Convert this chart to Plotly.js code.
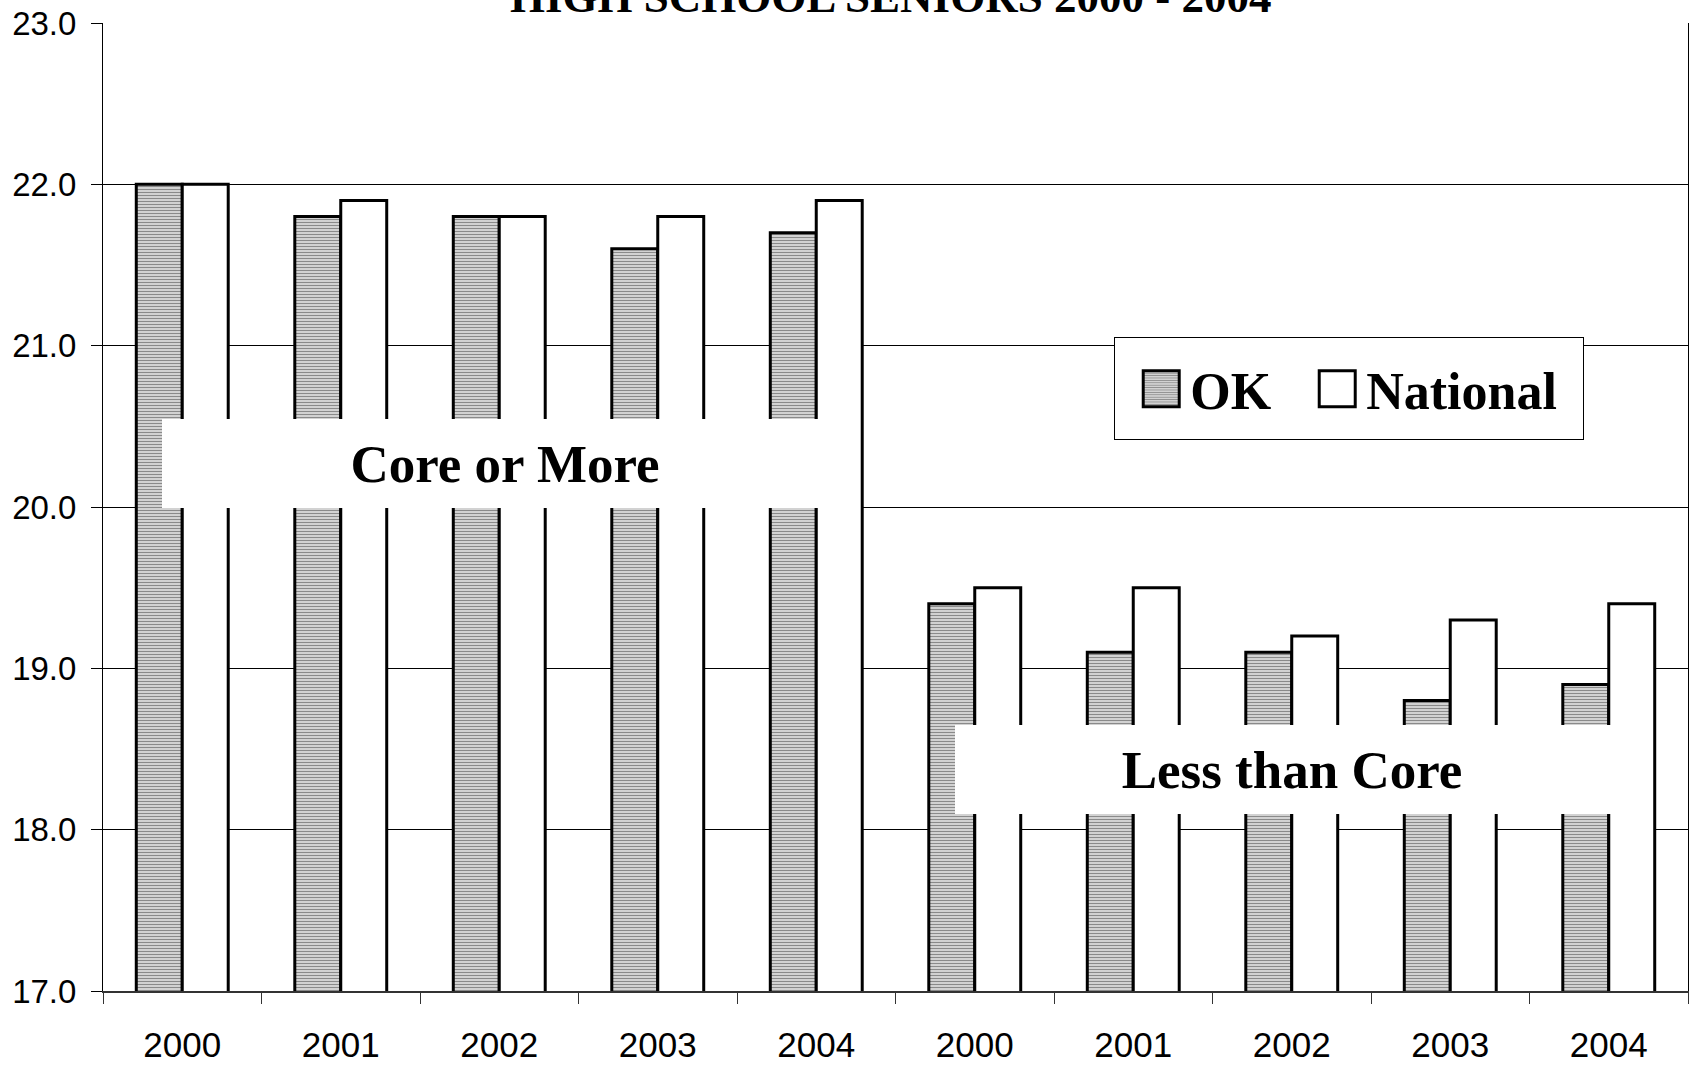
<!DOCTYPE html>
<html>
<head>
<meta charset="utf-8">
<script src="https://cdn.plot.ly/plotly-3.0.1.min.js"></script>
<style>
  html, body { margin: 0; padding: 0; background: #fff; }
  #chart { width: 1691px; height: 1065px; }
</style>
</head>
<body>
<div id="chart"></div>
<script>
// ---- data ----
const categories = ['2000', '2001', '2002', '2003', '2004', '2000', '2001', '2002', '2003', '2004'];
const okScores = [22.0, 21.8, 21.8, 21.6, 21.7, 19.4, 19.1, 19.1, 18.8, 18.9];
const nationalScores = [22.0, 21.9, 21.8, 21.8, 21.9, 19.5, 19.5, 19.2, 19.3, 19.4];
const seriesNames = ['OK', 'National'];
const groupLabels = ['Core or More', 'Less than Core'];
const titleText = 'HIGH SCHOOL SENIORS 2000 - 2004';
const yTicks = [17, 18, 19, 20, 21, 22, 23];

const xIdx = categories.map((_, i) => i);
const boundaries = categories.map((_, i) => i - 0.5).concat([categories.length - 0.5]);

const serif = '"Liberation Serif", "Times New Roman", serif';
const sans = '"Liberation Sans", Arial, sans-serif';

const traces = [
  {
    type: 'bar',
    name: seriesNames[0],
    x: xIdx,
    y: okScores,
    marker: {
      color: '#dedede',
      line: { color: '#000', width: 3 },
      pattern: { shape: '-', fgcolor: '#8a8a8a', bgcolor: '#e2e2e2', size: 3, solidity: 0.45 }
    },
    hoverinfo: 'y'
  },
  {
    type: 'bar',
    name: seriesNames[1],
    x: xIdx,
    y: nationalScores,
    marker: { color: '#ffffff', line: { color: '#000', width: 3 } },
    hoverinfo: 'y'
  }
];

const layout = {
  width: 1691,
  height: 1065,
  margin: { l: 103, r: 3, t: 23, b: 74 },
  paper_bgcolor: '#fff',
  plot_bgcolor: '#fff',
  barmode: 'group',
  bargap: 0.42,
  bargroupgap: 0,
  showlegend: true,
  legend: {
    orientation: 'h',
    x: 0.638, xanchor: 'left',
    y: 0.6648, yanchor: 'top',
    bgcolor: '#fff',
    bordercolor: '#000',
    borderwidth: 1,
    itemwidth: 65,
    entrywidth: 96,
    entrywidthmode: 'pixels',
    font: { family: serif, size: 52, color: '#000', weight: 'bold' },
    traceorder: 'normal'
  },
  xaxis: {
    range: [-0.5, categories.length - 0.5],
    tickmode: 'array',
    tickvals: xIdx,
    ticktext: categories,
    ticks: '',
    showgrid: false,
    zeroline: false,
    showline: true,
    linecolor: '#333',
    linewidth: 2,
    tickfont: { family: sans, size: 35, color: '#000' },
    ticklabelstandoff: 22,
    minor: {
      tickmode: 'array',
      tickvals: boundaries,
      ticks: 'outside',
      ticklen: 11,
      tickwidth: 1,
      tickcolor: '#333',
      showgrid: false
    },
    fixedrange: true
  },
  yaxis: {
    range: [17, 23],
    tickmode: 'array',
    tickvals: yTicks,
    tickformat: '.1f',
    ticks: 'outside',
    ticklen: 11,
    tickwidth: 1,
    tickcolor: '#000',
    showgrid: true,
    gridcolor: '#000',
    gridwidth: 1,
    zeroline: false,
    showline: true,
    linecolor: '#000',
    linewidth: 1,
    mirror: true,
    tickfont: { family: sans, size: 33, color: '#000' },
    ticklabelstandoff: 8,
    fixedrange: true
  },
  annotations: [
    {
      text: '<b>' + titleText + '</b>',
      xref: 'paper', yref: 'paper',
      x: 0.497, y: 1.0268,
      xanchor: 'center', yanchor: 'middle',
      showarrow: false,
      font: { family: serif, size: 45, color: '#000' }
    },
    {
      text: '<b>' + groupLabels[0] + '</b>',
      xref: 'x', yref: 'y',
      x: 2.035, y: 20.27,
      xanchor: 'center', yanchor: 'middle',
      showarrow: false,
      bgcolor: '#fff',
      width: 678, height: 81,
      borderpad: 4,
      borderwidth: 0,
      font: { family: serif, size: 53, color: '#000' }
    },
    {
      text: '<b>' + groupLabels[1] + '</b>',
      xref: 'x', yref: 'y',
      x: 7.0, y: 18.37,
      xanchor: 'center', yanchor: 'middle',
      showarrow: false,
      bgcolor: '#fff',
      width: 666, height: 81,
      borderpad: 4,
      borderwidth: 0,
      font: { family: serif, size: 53, color: '#000' }
    }
  ]
};

Plotly.newPlot('chart', traces, layout, { displayModeBar: false, staticPlot: true }).then(function () {
  // enlarge the legend swatches to match the reference
  document.querySelectorAll('.legend .legendpoints path').forEach(function (p) {
    p.setAttribute('d', 'M26.5,18H-9.5V-18H26.5Z');
  });
  // enlarge the legend frame (box padding as in the reference)
  const bg = document.querySelector('.legend rect.bg');
  if (bg) {
    const oldH = parseFloat(bg.getAttribute('height')) || 0;
    const oldY = parseFloat(bg.getAttribute('y')) || 0;
    const newH = 102;
    bg.setAttribute('y', oldY - (newH - oldH) / 2);
    bg.setAttribute('height', newH);
    bg.setAttribute('width', 469);
  }
  // widen the legend clip region so the last entry text is not cut
  document.querySelectorAll('clipPath[id^="legend"] rect').forEach(function (r) {
    r.setAttribute('width', 480);
  });
  const sb = document.querySelector('.legend .scrollbox');
  if (sb) {
    const cp = sb.getAttribute('clip-path');
    if (cp) {
      const m = cp.match(/#([^)"']+)/);
      if (m) {
        const el = document.getElementById(m[1]);
        if (el) el.querySelectorAll('rect').forEach(function (r) { r.setAttribute('width', 480); });
      }
    }
  }
});
</script>
</body>
</html>
